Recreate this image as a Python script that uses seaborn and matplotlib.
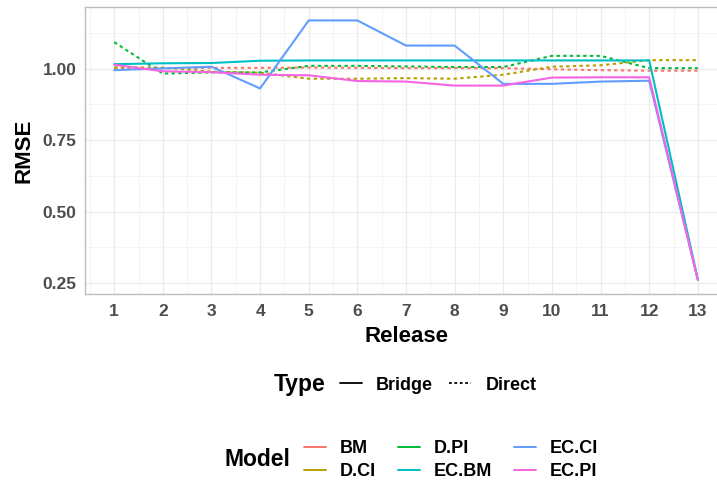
import numpy as np
import pandas as pd
import matplotlib
matplotlib.use('Agg')
import matplotlib.pyplot as plt
from matplotlib.lines import Line2D
import seaborn as sns

sns.set_style('white')
plt.rcParams['font.family'] = ['Liberation Sans', 'DejaVu Sans']
plt.rcParams['text.color'] = 'black'
plt.rcParams['axes.labelcolor'] = 'black'

# RMSE by release
releases = list(range(1, 14))
models = ['BM', 'D.CI', 'D.PI', 'EC.BM', 'EC.CI', 'EC.PI']
model_type = {'BM': 'Direct', 'D.CI': 'Direct', 'D.PI': 'Direct',
              'EC.BM': 'Bridge', 'EC.CI': 'Bridge', 'EC.PI': 'Bridge'}

rmse_bm = [1.002, 1.002, 1.003, 1.003, 1.004, 1.003, 1.002, 1.002, 1.002, 0.998, 0.995, 0.993, 0.993]
rmse_dci = [1.005, 1.004, 0.990, 0.986, 0.965, 0.965, 0.967, 0.965, 0.979, 1.007, 1.012, 1.030, 1.030]
rmse_dpi = [1.093, 0.983, 0.987, 0.987, 1.010, 1.010, 1.008, 1.006, 1.006, 1.045, 1.045, 1.002, 1.002]
rmse_ecbm = [1.016, 1.019, 1.020, 1.028, 1.029, 1.029, 1.029, 1.029, 1.029, 1.029, 1.029, 1.029, 0.263]
rmse_ecci = [0.995, 1.001, 1.007, 0.931, 1.169, 1.169, 1.081, 1.081, 0.947, 0.947, 0.955, 0.958, 0.261]
rmse_ecpi = [1.014, 0.991, 0.988, 0.979, 0.977, 0.957, 0.955, 0.941, 0.941, 0.969, 0.970, 0.970, 0.261]

series = {'BM': rmse_bm, 'D.CI': rmse_dci, 'D.PI': rmse_dpi,
          'EC.BM': rmse_ecbm, 'EC.CI': rmse_ecci, 'EC.PI': rmse_ecpi}

colors = ['#F8766D', '#B79F00', '#00BA38', '#00BFC4', '#619CFF', '#F564E3']
palette = dict(zip(models, colors))

rows = []
for m in models:
    for r, v in zip(releases, series[m]):
        rows.append({'Release': r, 'RMSE': v, 'Model': m, 'Type': model_type[m]})
df = pd.DataFrame(rows)

W, H = 717, 487
fig = plt.figure(figsize=(W / 100, H / 100), dpi=100)
ax = fig.add_axes([85 / W, 1 - 294 / H, (727 - 85) / W, (294 - 7) / H])

dash_map = {'Bridge': '', 'Direct': (1.6, 1.6)}
sns.lineplot(data=df, x='Release', y='RMSE', hue='Model', style='Type',
             hue_order=models, palette=palette, dashes=dash_map,
             style_order=['Bridge', 'Direct'], estimator=None,
             linewidth=1.5, legend=False, ax=ax)

ax.set_xlim(0.4, 13.6)
ax.set_ylim(0.2116, 1.216)
ax.set_xticks(releases)
ax.set_xticks(np.arange(0.5, 14, 1), minor=True)
ax.set_yticks([0.25, 0.50, 0.75, 1.00])
ax.set_yticks([0.375, 0.625, 0.875, 1.125], minor=True)
ax.set_yticklabels(['0.25', '0.50', '0.75', '1.00'])
ax.grid(True, which='major', color='#EBEBEB', linewidth=0.9)
ax.grid(True, which='minor', color='#F3F3F3', linewidth=0.6)
ax.set_axisbelow(True)

for side in ['left', 'top', 'bottom']:
    ax.spines[side].set_visible(True)
    ax.spines[side].set_color('#BDBDBD')
    ax.spines[side].set_linewidth(1.0)
ax.spines['right'].set_visible(False)

ax.tick_params(axis='both', which='major', length=4, width=0.8, color='#BDBDBD',
               labelsize=12.5, labelcolor='#4D4D4D', pad=2)
ax.tick_params(axis='x', which='major', pad=3)
ax.tick_params(axis='both', which='minor', length=0)
for lab in ax.get_xticklabels() + ax.get_yticklabels():
    lab.set_fontweight('bold')

ax.set_xlabel('Release', fontsize=16, fontweight='bold', labelpad=5)
ax.set_ylabel('RMSE', fontsize=16, fontweight='bold', labelpad=6)

# Type legend
type_handles = [Line2D([], [], color='black', linewidth=1.3, linestyle='-'),
                Line2D([], [], color='black', linewidth=1.3, dashes=(1.5, 1.5))]
leg1 = fig.legend(type_handles, ['Bridge', 'Direct'], loc='center left',
                  bbox_to_anchor=(340 / W, 1 - 385 / H), ncol=2, frameon=False,
                  prop={'size': 13, 'weight': 'bold'}, handlelength=1.2,
                  handletextpad=0.8, columnspacing=0.9, borderpad=0, borderaxespad=0)
fig.text(326 / W, 1 - 385 / H, 'Type', ha='right', va='center',
         fontsize=16.5, fontweight='bold')

# Model legend
model_handles = [Line2D([], [], color=c, linewidth=1.4) for c in colors]
leg2 = fig.legend(model_handles, models, loc='center left',
                  bbox_to_anchor=(304 / W, 1 - 460 / H), ncol=3, frameon=False,
                  prop={'size': 13, 'weight': 'bold'}, handlelength=1.2,
                  handletextpad=0.8, columnspacing=1.2, labelspacing=0.35,
                  borderpad=0, borderaxespad=0)
fig.text(290 / W, 1 - 460 / H, 'Model', ha='right', va='center',
         fontsize=16.5, fontweight='bold')

fig.savefig('out.png', dpi=100)
